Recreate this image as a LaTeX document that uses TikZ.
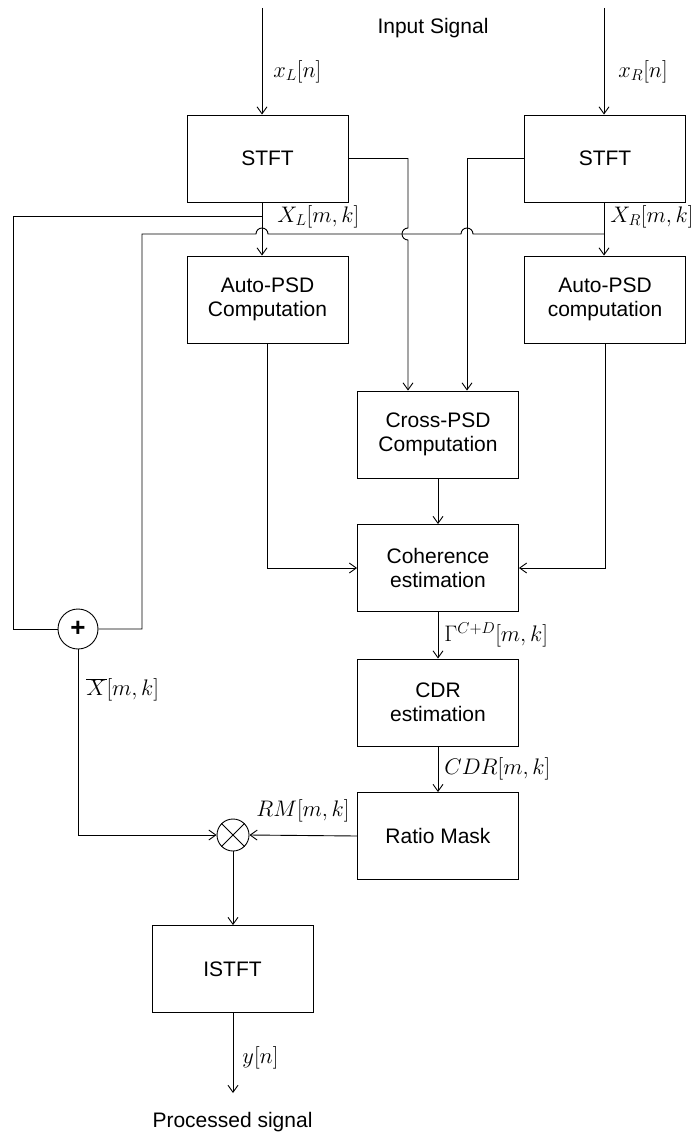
\RequirePackage{fix-cm}
\documentclass[tikz,border=0pt]{standalone}
\usepackage{fontspec}
\setmainfont{Liberation Sans}
\usetikzlibrary{arrows.meta}
\begin{document}
\begin{tikzpicture}[x=1pt,y=1pt,line width=0.9pt,
  blk/.style={draw, minimum width=161pt, minimum height=87pt, align=center, inner sep=0pt,
              font=\fontsize{21}{24}\selectfont},
  lbl/.style={inner sep=0pt, font=\fontsize{21}{24}\selectfont},
  mlbl/.style={inner sep=0pt, font=\fontsize{22.5}{25}\selectfont},
  arr/.style={-{Straight Barb[length=7pt,width=10pt]}}]
\useasboundingbox (0,0) rectangle (696,-1134);

% blocks
\node[blk] (stftL) at (267.5,-158.5) {STFT};
\node[blk] (stftR) at (605,-158.5) {STFT};
\node[blk] (apsdL) at (267.5,-299.5) {Auto-PSD\\Computation};
\node[blk] (apsdR) at (605,-299.5) {Auto-PSD\\computation};
\node[blk] (cpsd) at (438,-434.5) {Cross-PSD\\Computation};
\node[blk] (coh) at (438,-568) {Coherence\\estimation};
\node[blk] (cdr) at (438,-702.5) {CDR\\estimation};
\node[blk] (rmask) at (438,-836) {Ratio Mask};
\node[blk] (istft) at (232.5,-969) {ISTFT};
\node[circle, draw, minimum size=40pt, inner sep=0pt, font=\bfseries\fontsize{26}{28}\selectfont] (plus) at (78,-629) {+};
\node[circle, draw, minimum size=32pt, inner sep=0pt] (mul) at (233,-835) {};
\draw (mul.45) -- (mul.225) (mul.135) -- (mul.315);

% texts
\node[lbl] (insig) at (433,-28) {Input Signal};
\node[lbl] (outsig) at (232.5,-1122) {Processed signal};

% coordinates
\coordinate (inL) at (262,-8);
\coordinate (inR) at (604,-8);
\coordinate (bL) at (262,-216);
\coordinate (bR) at (604,-234);
\coordinate (fl1) at (13,-216);
\coordinate (fl2) at (13,-629);
\coordinate (fr0) at (473,-234);
\coordinate (fr1) at (268,-234);
\coordinate (fr2) at (142,-234);
\coordinate (fr3) at (142,-629);
\coordinate (cx1) at (408,-158.5);
\coordinate (cx1h) at (408,-228);
\coordinate (cx2) at (467,-158.5);
\coordinate (yout) at (233,-1093);

% inputs
\draw[arr] (inL) -- (inL |- stftL.north);
\node[mlbl, anchor=west] (lxl) at (273,-72) {$x_L[n]$};
\draw[arr] (inR) -- (inR |- stftR.north);
\node[mlbl, anchor=west] (lxr) at (618,-72) {$x_R[n]$};

% STFT outputs
\draw[arr] (inL |- stftL.south) -- (inL |- apsdL.north);
\node[mlbl, anchor=west] (lXL) at (277,-217) {$X_L[m,k]$};
\draw[arr] (inR |- stftR.south) -- (inR |- apsdR.north);
\node[mlbl, anchor=east] (lXR) at (694,-217) {$X_R[m,k]$};

% feedback lines to the adder
\draw (bL) -- (fl1) -- (fl2) -- (plus.west);
\draw (bR) -- (fr0) arc[start angle=0, end angle=180, radius=6pt] -- (fr1)
      arc[start angle=0, end angle=180, radius=6pt] -- (fr2) -- (fr3) -- (plus.east);

% cross lines to Cross-PSD
\draw[arr] (stftL.east) -- (cx1) -- (cx1h) arc[start angle=90, end angle=270, radius=6pt] -- (cx1 |- cpsd.north);
\draw[arr] (stftR.west) -- (cx2) -- (cx2 |- cpsd.north);

% auto-PSD to coherence
\draw[arr] (apsdL.south) -- (apsdL.south |- coh.west) -- (coh.west);
\draw[arr] (apsdR.south) -- (apsdR.south |- coh.east) -- (coh.east);
\draw[arr] (cpsd.south) -- (coh.north);

% chain
\draw[arr] (coh.south) -- (cdr.north) node[mlbl, midway, anchor=west, xshift=6pt] (lg) {$\Gamma^{C+D}[m,k]$};
\draw[arr] (cdr.south) -- (rmask.north) node[mlbl, midway, anchor=west, xshift=6pt] (lc) {$CDR[m,k]$};
\draw[arr] (rmask.west) -- (mul.east);
\node[mlbl] (lrm) at (303,-811) {$RM[m,k]$};

% adder to multiplier
\draw[arr] (plus.south) -- (plus.south |- mul.west) -- (mul.west);
\node[mlbl, anchor=west] (lxb) at (86,-690) {$\overline{X}[m,k]$};

% output
\draw[arr] (mul.south) -- (mul.south |- istft.north);
\draw[arr] (istft.south -| mul.south) -- (yout);
\node[mlbl, anchor=west] (ly) at (242,-1058) {$y[n]$};
\end{tikzpicture}
\end{document}
